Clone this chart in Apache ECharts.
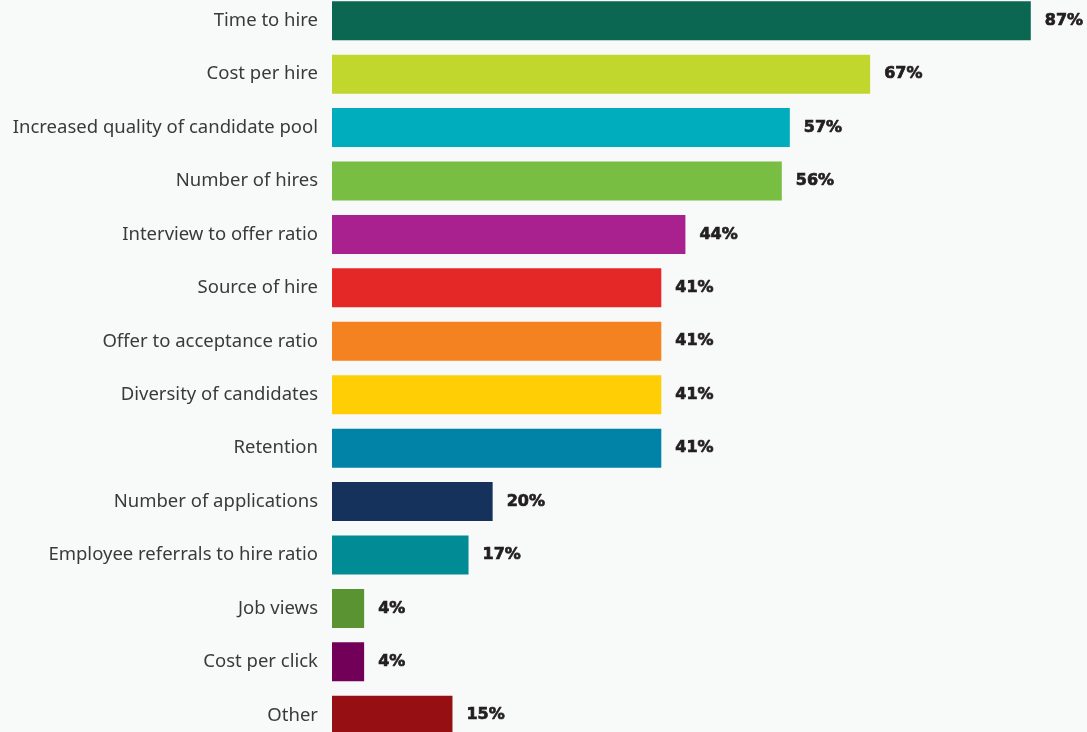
<!DOCTYPE html>
<html><head><meta charset="utf-8">
<script src="https://cdn.jsdelivr.net/npm/echarts@6/dist/echarts.min.js"></script>
<style>html,body{margin:0;padding:0;background:#f8f9f9;overflow:hidden;width:1087px;height:732px;}#c{width:1087px;height:748px;margin-top:-6px;}</style>
</head><body><div id="c"></div>
<script>
const categories = ["Time to hire","Cost per hire","Increased quality of candidate pool","Number of hires","Interview to offer ratio","Source of hire","Offer to acceptance ratio","Diversity of candidates","Retention","Number of applications","Employee referrals to hire ratio","Job views","Cost per click","Other"];
const values = [87,67,57,56,44,41,41,41,41,20,17,4,4,15];
const colors = ["#0b6652","#c1d72e","#00adbd","#78be43","#a9218e","#e42827","#f58220","#ffce05","#0083a6","#14325c","#008b95","#5a9331","#720058","#960f12"];

const chart = echarts.init(document.getElementById('c'));
chart.setOption({
  backgroundColor: '#f8f9f9',
  animation: false,
  grid: {left: 332, right: 0, top: 0, bottom: 0, containLabel: false},
  xAxis: {type: 'value', min: 0, max: 94, show: false},
  yAxis: {type: 'category', data: categories, inverse: true,
    axisLine: {show: false}, axisTick: {show: false},
    axisLabel: {margin: 14, color: '#3a3a3a', fontSize: 18.5, fontFamily: 'Noto Sans'}},
  series: [{type: 'bar', barWidth: 39,
    data: values.map((v, i) => ({value: v, itemStyle: {color: colors[i]}})),
    label: {show: true, position: 'right', distance: 14, formatter: '{c}%',
      color: '#231f20', fontSize: 16, fontWeight: 'bold', fontFamily: 'DejaVu Sans',
      textBorderColor: '#231f20', textBorderWidth: 0.7}}]
});
</script></body></html>
